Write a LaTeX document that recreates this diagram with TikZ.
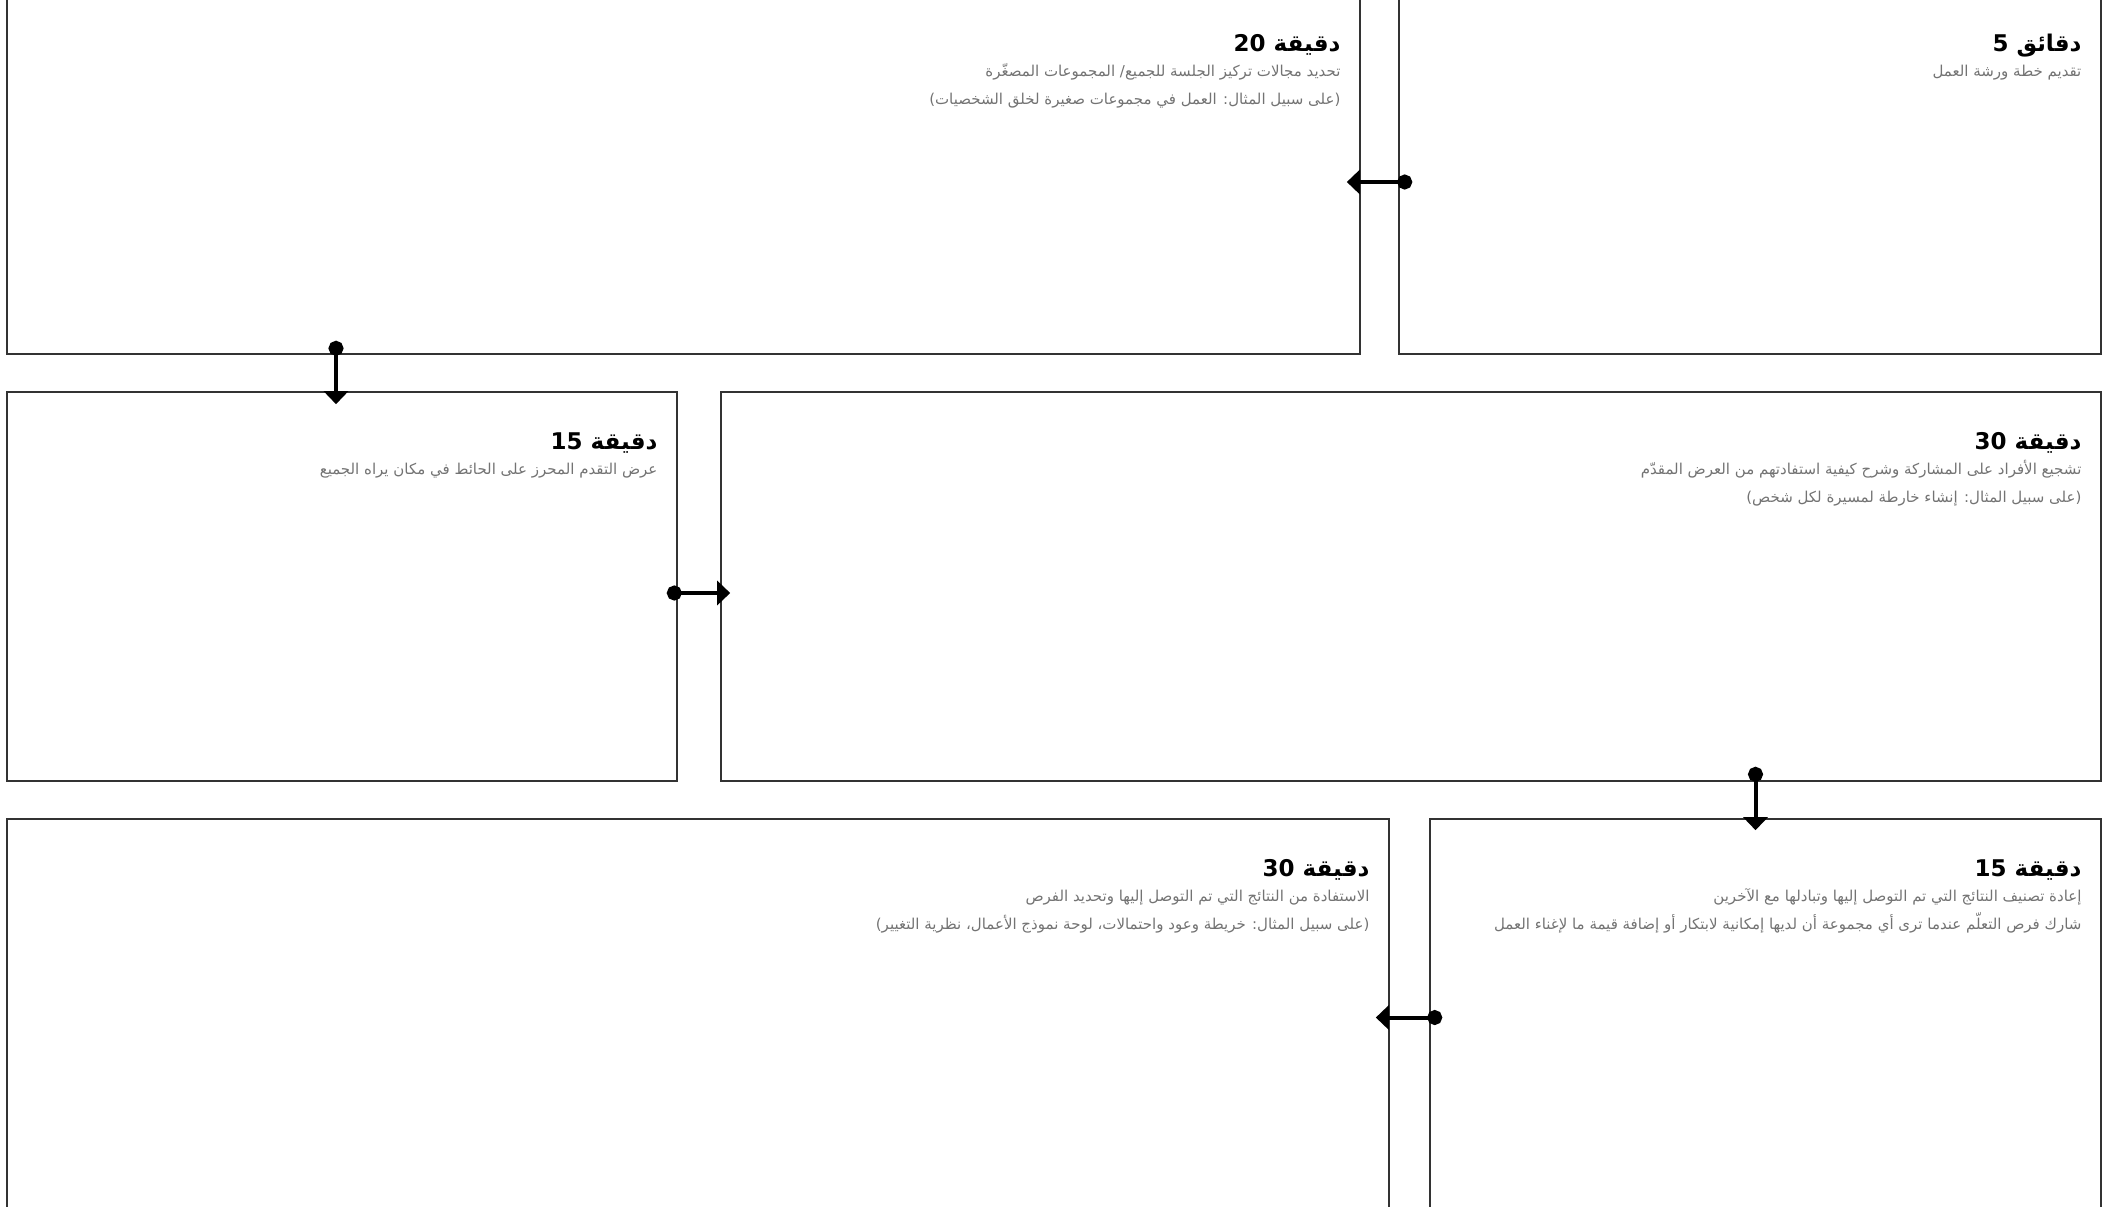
\documentclass[tikz,border=0pt]{standalone}
\usepackage{fontspec}
\TeXXeTstate=1
\newfontfamily\arabicfont[Script=Arabic]{DejaVu Sans}
\usetikzlibrary{arrows.meta,fit}
\newcommand{\ar}[1]{\beginR#1\endR}

\tikzset{
  panel/.style={draw=black!80, line width=0.8pt, inner sep=0pt},
  head/.style={anchor=base east, inner sep=0pt,
    font=\arabicfont\bfseries\fontsize{11.5}{14}\selectfont},
  line/.style={anchor=base east, inner sep=0pt, text=black!55,
    font=\arabicfont\fontsize{7.5}{10}\selectfont},
  link/.style={line width=2pt, {Circle[length=7.5pt]}-{Triangle[length=6.5pt,width=12pt]}}
}

\begin{document}
\begin{tikzpicture}[x=0.5pt,y=-0.5pt]
\clip (0,0) rectangle (2112,1206);

% panels, px coordinates with y going down
\node[panel, fit={(7,-6) (1360,354)}] (focus) {};
\node[panel, fit={(1399,-6) (2101,354)}] (plan) {};
\node[panel, fit={(7,392) (677,781)}] (wall) {};
\node[panel, fit={(721,392) (2101,781)}] (share) {};
\node[panel, fit={(7,819) (1389,1260)}] (harvest) {};
\node[panel, fit={(1430,819) (2101,1260)}] (sort) {};

% 5 min
\node[head] (plan-t) at ([xshift=-10pt,yshift=-29pt]plan.north east) {\ar{دقائق \beginL5\endL}};
\node[line] (plan-1) at ([xshift=-10pt,yshift=-41.5pt]plan.north east) {\ar{تقديم خطة ورشة العمل}};

% 20 min
\node[head] (focus-t) at ([xshift=-10pt,yshift=-29pt]focus.north east) {\ar{دقيقة \beginL20\endL}};
\node[line] (focus-1) at ([xshift=-10pt,yshift=-41.5pt]focus.north east) {\ar{تحديد مجالات تركيز الجلسة للجميع/ المجموعات المصغّرة}};
\node[line] (focus-2) at ([xshift=-10pt,yshift=-55.5pt]focus.north east) {\ar{(على سبيل المثال: العمل في مجموعات صغيرة لخلق الشخصيات)}};

% 15 min
\node[head] (wall-t) at ([xshift=-10pt,yshift=-29pt]wall.north east) {\ar{دقيقة \beginL15\endL}};
\node[line] (wall-1) at ([xshift=-10pt,yshift=-41.5pt]wall.north east) {\ar{عرض التقدم المحرز على الحائط في مكان يراه الجميع}};

% 30 min
\node[head] (share-t) at ([xshift=-10pt,yshift=-29pt]share.north east) {\ar{دقيقة \beginL30\endL}};
\node[line] (share-1) at ([xshift=-10pt,yshift=-41.5pt]share.north east) {\ar{تشجيع الأفراد على المشاركة وشرح كيفية استفادتهم من العرض المقدّم}};
\node[line] (share-2) at ([xshift=-10pt,yshift=-55.5pt]share.north east) {\ar{(على سبيل المثال: إنشاء خارطة لمسيرة لكل شخص)}};

% 15 min
\node[head] (sort-t) at ([xshift=-10pt,yshift=-29pt]sort.north east) {\ar{دقيقة \beginL15\endL}};
\node[line] (sort-1) at ([xshift=-10pt,yshift=-41.5pt]sort.north east) {\ar{إعادة تصنيف النتائج التي تم التوصل إليها وتبادلها مع الآخرين}};
\node[line] (sort-2) at ([xshift=-10pt,yshift=-55.5pt]sort.north east) {\ar{شارك فرص التعلّم عندما ترى أي مجموعة أن لديها إمكانية لابتكار أو إضافة قيمة ما لإغناء العمل}};

% 30 min
\node[head] (harvest-t) at ([xshift=-10pt,yshift=-29pt]harvest.north east) {\ar{دقيقة \beginL30\endL}};
\node[line] (harvest-1) at ([xshift=-10pt,yshift=-41.5pt]harvest.north east) {\ar{الاستفادة من النتائج التي تم التوصل إليها وتحديد الفرص}};
\node[line] (harvest-2) at ([xshift=-10pt,yshift=-55.5pt]harvest.north east) {\ar{(على سبيل المثال: خريطة وعود واحتمالات، لوحة نموذج الأعمال، نظرية التغيير)}};

% links between panels
\draw[link] ([xshift=7pt,yshift=-4pt]plan.west) -- ([xshift=-7pt,yshift=-4pt]focus.east);
\draw[link] ([xshift=-3pt,yshift=7pt]wall.north |- focus.south) -- ([xshift=-3pt,yshift=-6.5pt]wall.north);
\draw[link] ([xshift=-5.5pt,yshift=-3.25pt]wall.east) -- ([xshift=5pt,yshift=-3.25pt]share.west);
\draw[link] ([xshift=-5pt,yshift=7.5pt]sort.north |- share.south) -- ([xshift=-5pt,yshift=-6pt]sort.north);
\draw[link] ([xshift=6.5pt,yshift=11pt]sort.west) -- ([xshift=-7pt,yshift=11pt]harvest.east);
\end{tikzpicture}
\end{document}
